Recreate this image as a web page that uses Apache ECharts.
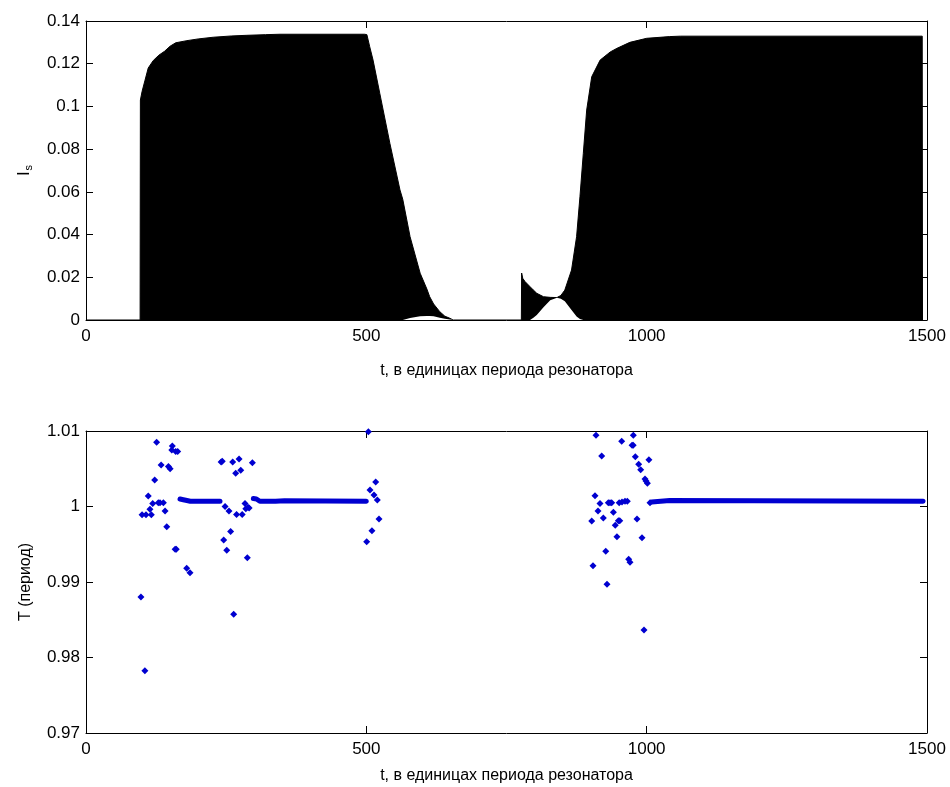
<!DOCTYPE html>
<html><head><meta charset="utf-8">
<script src="https://cdn.jsdelivr.net/npm/echarts@6/dist/echarts.min.js"></script>
<style>html,body{margin:0;padding:0;background:#fff}#c{width:950px;height:787px}</style>
</head><body><div id="c"></div><script>
// ---- Top panel: envelope of I_s(t) (upper and lower bounds of the fast oscillation)
const ENV_T = [0, 96.5, 97, 100, 105, 111, 120, 130, 140, 150, 160, 180, 200, 227, 260, 287, 320, 346, 497, 501, 506, 512, 524, 542, 560, 565, 578, 596, 608, 613, 620, 631, 640, 649, 655, 776.5, 777, 779, 783, 786, 792, 798, 804, 816, 828, 840, 847, 854, 866, 875, 881, 887, 893, 902, 917, 935, 947, 970, 1000, 1041, 1060, 1491.5, 1492];
const ENV_UPPER = [0, 0, 0.103, 0.107, 0.112, 0.118, 0.1215, 0.124, 0.1258, 0.1282, 0.1298, 0.1308, 0.1316, 0.1324, 0.1330, 0.1333, 0.1336, 0.1338, 0.1338, 0.1336, 0.128, 0.1217, 0.1061, 0.0827, 0.0609, 0.0565, 0.039, 0.0219, 0.0145, 0.0109, 0.0075, 0.0039, 0.0018, 0.0008, 0, 0, 0.022, 0.0195, 0.018, 0.0175, 0.0156, 0.014, 0.0125, 0.0109, 0.0106, 0.0105, 0.0115, 0.014, 0.0234, 0.039, 0.0577, 0.078, 0.0983, 0.1139, 0.1217, 0.1255, 0.1272, 0.1300, 0.1319, 0.1327, 0.1329, 0.1329, 0];
const ENV_LOWER = [0, 0, 0, 0, 0, 0, 0, 0, 0, 0, 0, 0, 0, 0, 0, 0, 0, 0, 0, 0, 0, 0, 0, 0, 0, 0, 0.0009, 0.0017, 0.0019, 0.0019, 0.0017, 0.0011, 0.0006, 0.0002, 0, 0, 0, 0, 0, 0, 0, 0.001, 0.0023, 0.006, 0.0093, 0.0104, 0.0100, 0.0088, 0.0047, 0.0016, 0.0005, 0, 0, 0, 0, 0, 0, 0, 0, 0, 0, 0, 0];

// ---- Bottom panel: period T, scattered points
const PER_T = [98, 100, 105, 107, 111, 114, 116.5, 119, 122.5, 126, 129, 132, 134, 138, 141, 144, 147, 150, 153, 154, 159, 160, 161, 163.5, 179.6, 185.5,
  241, 243, 245.6, 248, 251, 255, 258, 261.6, 263.4, 267, 268.5, 273, 276, 278.6, 283.6, 285, 287.7, 289, 291, 296.7,
  500.6, 503.6, 506.5, 510, 513.7, 516.7, 519.6, 522.6,
  902, 904.3, 907.8, 909.6, 913.2, 916.8, 919.8, 922.7, 927, 929.3, 931.6, 934.6, 937.6, 940.6, 944, 947, 949.5, 951, 952, 955.4, 956, 961.4, 965.5, 967.9, 970.3, 974, 976, 976.2, 979.8, 982.8, 985.8, 989.3, 991.7, 995.2, 997, 998.8, 1001.3, 1004, 1006];
const PER_V = [0.9880, 0.9989, 0.97825, 0.9989, 1.0014, 0.99963, 0.9989, 1.0004, 1.0035, 1.0085, 1.0005, 1.0005, 1.0055, 1.0005, 0.99941, 0.99733, 1.0053, 1.0050, 1.0075, 1.0080, 0.99433, 1.0073, 0.99433, 1.0073, 0.99182, 0.99124,
  1.0059, 1.0060, 0.99557, 1.0000, 0.9942, 0.99941, 0.99668, 1.0059, 0.98572, 1.0044, 0.99893, 1.0063, 1.0048, 0.99893, 1.0004, 0.9997, 0.9932, 0.9999, 0.9998, 1.0058,
  0.99534, 1.0099, 1.0022, 0.99679, 1.00152, 1.00325, 1.00086, 0.99834,
  0.99808, 0.99216, 1.00143, 1.00943, 0.99941, 1.0004, 1.00669, 0.99848, 0.99406, 0.98970, 1.0005, 1.0005, 1.0005, 0.99923, 0.99751, 0.996, 0.9981, 1.0005, 0.99812, 1.00863, 1.0006, 1.0007, 1.0007, 0.9930, 0.99261, 1.0081, 1.0081, 1.00943, 1.0066, 0.99834, 1.00559, 1.00487, 0.99587, 0.98364, 1.00364, 1.00338, 1.00307, 1.0062, 1.0005];
// steady-state stretches (dense runs of points)
const STEADY_T = [[167.7, 173.6, 180, 186, 239], [298.5, 304, 310, 338, 341, 354, 356, 500], [1009, 1012, 1041, 1044, 1493]];
const STEADY_V = [[1.0010, 1.0009, 1.0008, 1.0007, 1.0007], [1.00105, 1.0010, 1.0007, 1.0007, 1.00075, 1.00075, 1.0007, 1.0007], [1.0006, 1.0008, 1.0008, 1.0007, 1.0007]];

const X_TICKS = {min: 0, max: 1500, interval: 500};
const Y1_TICKS = {min: 0, max: 0.14, interval: 0.02};
const Y2_TICKS = {min: 0.97, max: 1.01, interval: 0.01};
const X_NAME = 't, в единицах периода резонатора';
const Y1_NAME = '{a|I}{b|s}';
const Y2_NAME = 'T (период)';

const FONT = '"Liberation Sans", Arial, sans-serif';
const BLUE = '#0000d0';

function fmt(v) { return String(parseFloat(Number(v).toFixed(2))); }
function xAxis(grid, pos, withName, gap) {
  return Object.assign({
    gridIndex: grid, type: 'value', position: pos,
    axisLine: {show: true, onZero: false, lineStyle: {color: '#000', width: 1}},
    axisTick: {show: true, inside: true, length: 7, lineStyle: {color: '#000'}},
    axisLabel: {show: pos === 'bottom', color: '#000', fontSize: 17, fontFamily: FONT, margin: 8, formatter: fmt},
    splitLine: {show: false},
    name: withName ? X_NAME : '', nameLocation: 'middle', nameGap: gap,
    nameTextStyle: {color: '#000', fontSize: 16, fontFamily: FONT}
  }, X_TICKS);
}
function yAxis(grid, pos, ticks, name, gap) {
  return Object.assign({
    gridIndex: grid, type: 'value', position: pos,
    axisLine: {show: true, onZero: false, lineStyle: {color: '#000', width: 1}},
    axisTick: {show: true, inside: true, length: 7, lineStyle: {color: '#000'}},
    axisLabel: {show: pos === 'left', color: '#000', fontSize: 17, fontFamily: FONT, margin: 6, formatter: fmt},
    splitLine: {show: false},
    name: name, nameLocation: 'middle', nameRotate: 90, nameGap: gap,
    nameTextStyle: {color: '#000', fontSize: 16, fontFamily: FONT,
      rich: {a: {fontSize: 17, fontFamily: FONT, color: '#000'}, b: {fontSize: 11, fontFamily: FONT, color: '#000', padding: [9, 0, 0, 1]}}}
  }, ticks);
}

const series = [
  // upper envelope: black fill down to the axis
  {type: 'line', xAxisIndex: 0, yAxisIndex: 0, symbol: 'none', silent: true, z: 2,
   lineStyle: {color: '#000', width: 1}, areaStyle: {color: '#000', opacity: 1, origin: 'start'},
   data: ENV_T.map((t, i) => [t, ENV_UPPER[i]])},
  // lower envelope: clears the part below the oscillation's minimum
  {type: 'line', xAxisIndex: 0, yAxisIndex: 0, symbol: 'none', silent: true, z: 3,
   lineStyle: {width: 0, opacity: 0}, areaStyle: {color: '#fff', opacity: 1, origin: 'start'},
   data: ENV_T.map((t, i) => [t, ENV_LOWER[i]])},
  {type: 'scatter', xAxisIndex: 2, yAxisIndex: 2, symbol: 'diamond', symbolSize: 7,
   itemStyle: {color: BLUE, opacity: 1}, data: PER_T.map((t, i) => [t, PER_V[i]])}
];
STEADY_T.forEach((seg, k) => {
  series.push({type: 'line', xAxisIndex: 2, yAxisIndex: 2, symbol: 'none',
    lineStyle: {color: BLUE, width: 5, cap: 'round', join: 'round'},
    data: seg.map((t, i) => [t, STEADY_V[k][i]])});
});

const chart = echarts.init(document.getElementById('c'), null, {renderer: 'canvas'});
chart.setOption({
  animation: false,
  backgroundColor: '#fff',
  grid: [
    {left: 86, right: 23, top: 21, height: 299, containLabel: false},
    {left: 86, right: 23, top: 431, height: 302, containLabel: false}
  ],
  xAxis: [xAxis(0, 'bottom', true, 43), xAxis(0, 'top', false, 0), xAxis(1, 'bottom', true, 35), xAxis(1, 'top', false, 0)],
  yAxis: [yAxis(0, 'left', Y1_TICKS, Y1_NAME, 52), yAxis(0, 'right', Y1_TICKS, '', 0),
          yAxis(1, 'left', Y2_TICKS, Y2_NAME, 52), yAxis(1, 'right', Y2_TICKS, '', 0)],
  series: series
});
</script></body></html>
